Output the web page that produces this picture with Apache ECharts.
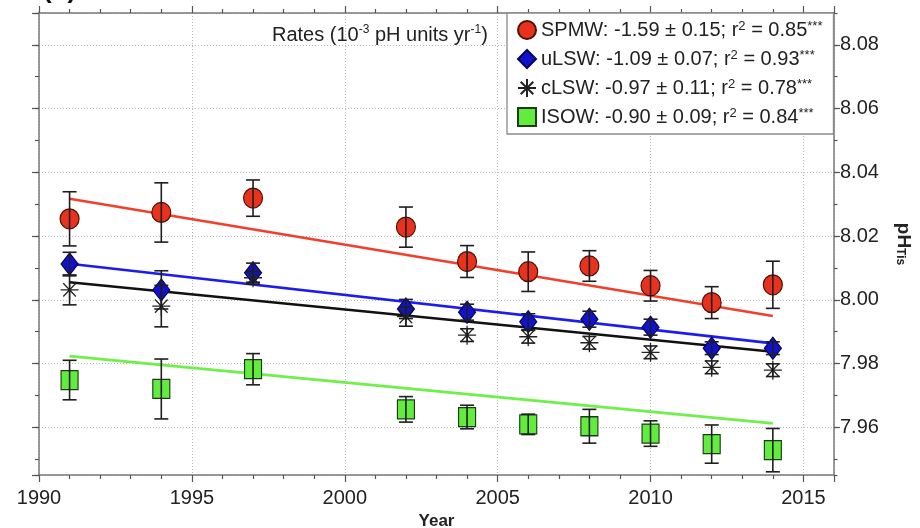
<!DOCTYPE html>
<html>
<head>
<meta charset="utf-8">
<script src="https://cdn.jsdelivr.net/npm/echarts@6/dist/echarts.min.js"></script>
<style>html,body{margin:0;padding:0;background:#fff;}#c{width:920px;height:528px;}</style>
</head>
<body>
<div id="c"></div>
<script>
// ---- data ----
const years = [1991, 1994, 1997, 2002, 2004, 2006, 2008, 2010, 2012, 2014];
const spmw = [8.0254, 8.0274, 8.0319, 8.0228, 8.0120, 8.0088, 8.0106, 8.0044, 7.9991, 8.0047];
const spmwErr = [0.0085, 0.0093, 0.0057, 0.0063, 0.0050, 0.0062, 0.0048, 0.0048, 0.0050, 0.0074];
const ulsw = [8.0112, 8.0031, 8.0085, 7.9971, 7.9961, 7.9931, 7.9939, 7.9914, 7.9848, 7.9848];
const ulswErr = [0.0037, 0.0060, 0.0030, 0.0030, 0.0025, 0.0025, 0.0025, 0.0025, 0.0020, 0.0020];
const clsw = [8.0031, 7.9980, 8.0069, 7.9947, 7.9889, 7.9884, 7.9865, 7.9835, 7.9788, 7.9779];
const clswErr = [0.0047, 0.0065, 0.0020, 0.0030, 0.0020, 0.0020, 0.0020, 0.0020, 0.0020, 0.0020];
const isow = [7.9748, 7.9720, 7.9782, 7.9656, 7.9632, 7.9609, 7.9603, 7.9580, 7.9547, 7.9528];
const isowErr = [0.0062, 0.0094, 0.0049, 0.0040, 0.0037, 0.0032, 0.0053, 0.0040, 0.0060, 0.0068];
const trendYears = [1991, 2014];
const spmwTrend = [8.0317, 7.9949];
const ulswTrend = [8.0113, 7.9863];
const clswTrend = [8.0055, 7.9837];
const isowTrend = [7.9823, 7.9612];
const seriesNames = ['SPMW', 'uLSW', 'cLSW', 'ISOW'];
const legendLabels = {
  SPMW: 'SPMW: -1.59 ± 0.15; r{sup|2} = 0.85{sup|***}',
  uLSW: 'uLSW: -1.09 ± 0.07; r{sup|2} = 0.93{sup|***}',
  cLSW: 'cLSW: -0.97 ± 0.11; r{sup|2} = 0.78{sup|***}',
  ISOW: 'ISOW: -0.90 ± 0.09; r{sup|2} = 0.84{sup|***}'
};
const xTickLabels = [1990, 1995, 2000, 2005, 2010, 2015];

const FONT = 'Liberation Sans, Arial, Helvetica, sans-serif';
const AXIS_COLOR = '#7a7a7a';
const GRID_COLOR = '#b8b8b8';

const pts = (vals) => years.map((y, i) => [y, vals[i]]);
const bars = (vals, err) => years.map((y, i) => [y, vals[i] - err[i], vals[i] + err[i]]);
const trend = (vals) => trendYears.map((y, i) => [y, vals[i]]);

function errRender(params, api) {
  const x = api.value(0);
  const pLo = api.coord([x, api.value(1)]);
  const pHi = api.coord([x, api.value(2)]);
  const w = 7;
  const style = { stroke: '#1e1e1e', lineWidth: 1.6, fill: null };
  return {
    type: 'group',
    children: [
      { type: 'line', shape: { x1: pLo[0], y1: pLo[1], x2: pHi[0], y2: pHi[1] }, style: style },
      { type: 'line', shape: { x1: pLo[0] - w, y1: pLo[1], x2: pLo[0] + w, y2: pLo[1] }, style: style },
      { type: 'line', shape: { x1: pHi[0] - w, y1: pHi[1], x2: pHi[0] + w, y2: pHi[1] }, style: style }
    ]
  };
}

const styles = {
  SPMW: { symbol: 'circle', size: [19, 20], fill: '#e8321e', border: '#4a1208', bw: 1.2, line: '#f0402c' },
  uLSW: { symbol: 'diamond', size: [17, 22], fill: '#1212cc', border: '#050550', bw: 1.2, line: '#1c1cf0' },
  cLSW: { symbol: 'path://M0,10L20,10M10,0L10,20M3,3L17,17M17,3L3,17', size: [18, 19], fill: 'rgba(0,0,0,0)', border: '#222', bw: 1.3, line: '#111111' },
  ISOW: { symbol: 'rect', size: [17, 19], fill: '#62ec3e', border: '#1e3a1a', bw: 1.2, line: '#6ef04a' }
};
const valsBy = { SPMW: spmw, uLSW: ulsw, cLSW: clsw, ISOW: isow };
const errBy = { SPMW: spmwErr, uLSW: ulswErr, cLSW: clswErr, ISOW: isowErr };
const trendBy = { SPMW: spmwTrend, uLSW: ulswTrend, cLSW: clswTrend, ISOW: isowTrend };

const series = [];
seriesNames.forEach((n) => {
  const s = styles[n];
  series.push({
    name: n + ' fit', type: 'line', data: trend(trendBy[n]), showSymbol: false, symbol: 'none',
    lineStyle: { color: s.line, width: 2.6 }, z: 2, silent: true
  });
});
seriesNames.forEach((n) => {
  const s = styles[n];
  series.push({
    name: n, type: 'scatter', data: pts(valsBy[n]), symbol: s.symbol, symbolSize: s.size,
    itemStyle: { color: s.fill, borderColor: s.border, borderWidth: s.bw, opacity: 1 }, z: 3
  });
});
seriesNames.forEach((n) => {
  series.push({
    name: n + ' err', type: 'custom', renderItem: errRender, data: bars(valsBy[n], errBy[n]),
    encode: { x: 0, y: [1, 2] }, z: 4, silent: true
  });
});

const yMin = 7.945, yMax = 8.09;
const baseY = {
  type: 'value', min: yMin, max: yMax, scale: true,
  axisLine: { show: true, onZero: false, lineStyle: { color: AXIS_COLOR, width: 1.5 } },
  splitLine: { show: false }
};

const chart = echarts.init(document.getElementById('c'), null, { renderer: 'canvas' });
chart.setOption({
  animation: false,
  backgroundColor: '#fff',
  textStyle: { fontFamily: FONT },
  grid: { left: 39, right: 86, top: 13, bottom: 53, containLabel: false, outerBoundsMode: 'none' },
  xAxis: [
    {
      type: 'value', position: 'bottom', min: 1990, max: 2016, interval: 5,
      axisLine: { onZero: false, lineStyle: { color: AXIS_COLOR, width: 1.5 } },
      axisTick: { length: 7, lineStyle: { color: '#555', width: 1.2 } },
      minorTick: { show: true, splitNumber: 5, length: 4, lineStyle: { color: '#555', width: 1.2 } },
      axisLabel: {
        fontSize: 20, color: '#222', margin: 13, fontFamily: FONT, showMaxLabel: false,
        formatter: (v) => (xTickLabels.indexOf(v) >= 0 ? String(v) : '')
      },
      splitLine: { show: true, lineStyle: { color: GRID_COLOR, type: [1, 2], width: 1 } },
      name: 'Year', nameLocation: 'middle', nameGap: 36,
      nameTextStyle: { fontSize: 17, fontWeight: 'bold', color: '#222', fontFamily: FONT }
    },
    {
      type: 'value', position: 'top', min: 1990, max: 2016, interval: 5,
      axisLine: { onZero: false, lineStyle: { color: AXIS_COLOR, width: 1.5 } },
      axisTick: { length: 7, lineStyle: { color: '#555', width: 1.2 } },
      minorTick: { show: true, splitNumber: 5, length: 4, lineStyle: { color: '#555', width: 1.2 } },
      axisLabel: { show: false }, splitLine: { show: false }
    }
  ],
  yAxis: [
    Object.assign({}, baseY, {
      position: 'right', splitNumber: 7, minInterval: 0.02, maxInterval: 0.02,
      axisTick: { length: 6, lineStyle: { color: '#555', width: 1.2 } },
      axisLabel: {
        fontSize: 20, color: '#222', margin: 6, fontFamily: FONT,
        showMinLabel: false, showMaxLabel: false,
        formatter: (v) => v.toFixed(2)
      },
      splitLine: { show: true, lineStyle: { color: GRID_COLOR, type: [1, 2], width: 1 } },
      name: '{b|pH}{s|Tis}', nameLocation: 'middle', nameRotate: -90, nameGap: 60,
      nameTextStyle: {
        color: '#222', fontFamily: FONT,
        rich: {
          b: { fontSize: 19, fontWeight: 'bold', color: '#222', fontFamily: FONT, lineHeight: 22, verticalAlign: 'bottom' },
          s: { fontSize: 12, fontWeight: 'bold', color: '#222', fontFamily: FONT, lineHeight: 22, verticalAlign: 'bottom', padding: [10, 0, 0, 0] }
        }
      }
    }),
    Object.assign({}, baseY, {
      position: 'right', splitNumber: 14, minInterval: 0.01, maxInterval: 0.01,
      axisLine: { show: false, onZero: false },
      axisTick: { length: 3.5, lineStyle: { color: '#555', width: 1.2 } },
      axisLabel: { show: false }
    }),
    Object.assign({}, baseY, {
      position: 'left', splitNumber: 7, minInterval: 0.02, maxInterval: 0.02,
      axisTick: { length: 7, lineStyle: { color: '#555', width: 1.2 } },
      axisLabel: { show: false }
    }),
    Object.assign({}, baseY, {
      position: 'left', splitNumber: 14, minInterval: 0.01, maxInterval: 0.01,
      axisLine: { show: false, onZero: false },
      axisTick: { length: 4, lineStyle: { color: '#555', width: 1.2 } },
      axisLabel: { show: false }
    })
  ],
  legend: {
    data: seriesNames, orient: 'vertical', left: 507, top: 13,
    backgroundColor: '#ffffff', borderColor: '#8a8a8a', borderWidth: 1.3,
    padding: [7, 11, 7, 10], itemGap: 9, itemWidth: 18, itemHeight: 18,
    selectedMode: false,
    formatter: (name) => legendLabels[name],
    textStyle: {
      fontSize: 20, color: '#222', fontFamily: FONT, lineHeight: 20,
      rich: { sup: { fontSize: 13, color: '#222', fontFamily: FONT, verticalAlign: 'top', lineHeight: 10 } }
    }
  },
  graphic: [
    {
      type: 'text', left: 272, top: 24, z: 10,
      style: {
        text: 'Rates (10{sup|-3} pH units yr{sup|-1})',
        fill: '#222', font: '20px ' + FONT, lineHeight: 22,
        rich: { sup: { fontSize: 12, fill: '#222', fontFamily: FONT, verticalAlign: 'top', lineHeight: 9 } }
      }
    },
    {
      type: 'text', left: 43, top: -22, z: 10,
      style: { text: '(b)', fill: '#111', font: 'bold 26px ' + FONT }
    }
  ],
  series: series
});
</script>
</body>
</html>
